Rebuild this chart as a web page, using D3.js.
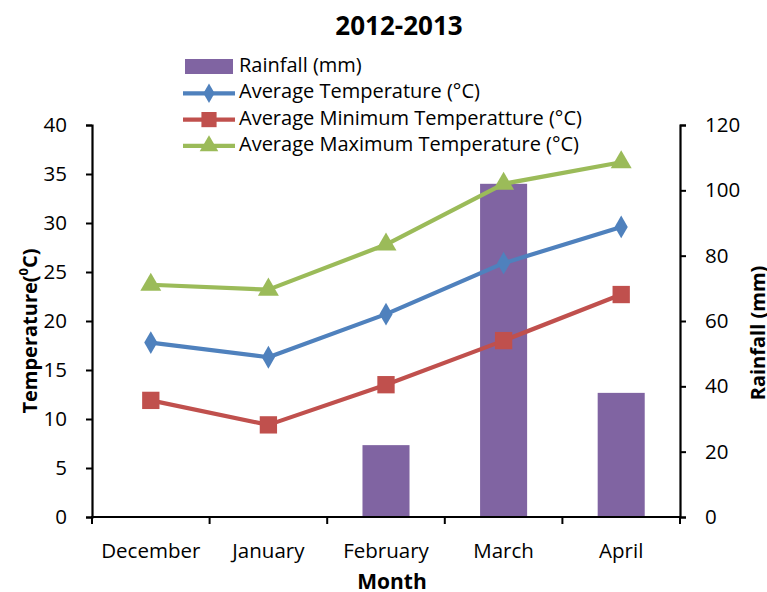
<!DOCTYPE html>
<html>
<head>
<meta charset="utf-8">
<script src="https://cdn.jsdelivr.net/npm/d3@7"></script>
<style>
  html, body { margin: 0; padding: 0; background: #fff; }
  svg { display: block; font-family: "Open Sans", Lato, sans-serif; }
</style>
</head>
<body>
<svg id="chart" width="767" height="592"></svg>
<script>
// Monthly climate data, 2012-2013 season
const months = ["December", "January", "February", "March", "April"];
const rainfall = [0, 0, 22, 102, 38];            // mm
const avgTemp = [17.8, 16.3, 20.7, 25.9, 29.6];  // °C
const minTemp = [11.9, 9.4, 13.5, 18.0, 22.7];   // °C
const maxTemp = [23.7, 23.2, 27.8, 34.0, 36.2];  // °C
const tempTicks = [0, 5, 10, 15, 20, 25, 30, 35, 40];
const rainTicks = [0, 20, 40, 60, 80, 100, 120];

const colors = { rain: "#8064A2", avg: "#4F81BD", min: "#C0504D", max: "#9BBB59" };
const FONT = '"Open Sans", Lato, sans-serif';

const svg = d3.select("#chart");
const plotLeft = 92, plotRight = 680, plotTop = 125, plotBottom = 517;

const x = d3.scaleBand().domain(months).range([plotLeft, plotRight]).paddingInner(0).paddingOuter(0);
const yT = d3.scaleLinear().domain([0, 40]).range([plotBottom, plotTop]);
const yR = d3.scaleLinear().domain([0, 120]).range([plotBottom, plotTop]);

// Rainfall bars (40% of each category band)
const barW = x.bandwidth() * 0.4;
svg.append("g").selectAll("rect")
  .data(months.map((m, i) => ({ m, v: rainfall[i] })).filter(d => d.v > 0))
  .join("rect")
  .attr("x", d => x(d.m) + x.bandwidth() / 2 - barW / 2)
  .attr("y", d => yR(d.v))
  .attr("width", barW)
  .attr("height", d => yR(0) - yR(d.v))
  .attr("fill", colors.rain);

// Axes
const axisStyle = g => {
  g.attr("font-family", FONT).attr("font-size", 20.5);
  g.selectAll("path").attr("stroke", "#000").attr("stroke-width", 2.2);
  g.selectAll("line").attr("stroke", "#000").attr("stroke-width", 2);
  g.selectAll("text").attr("fill", "#000");
};

svg.append("g")
  .attr("transform", `translate(${plotLeft},0)`)
  .call(d3.axisLeft(yT).tickValues(tempTicks).tickSize(6).tickSizeOuter(6).tickPadding(19))
  .call(axisStyle);

svg.append("g")
  .attr("transform", `translate(${plotRight},0)`)
  .call(d3.axisRight(yR).tickValues(rainTicks).tickSize(6).tickSizeOuter(6).tickPadding(19))
  .call(axisStyle);

// Category axis: ticks sit at band boundaries, labels at band centres
const xAxis = svg.append("g").attr("transform", `translate(0,${plotBottom})`);
xAxis.append("line")
  .attr("x1", plotLeft - 1).attr("x2", plotRight + 1).attr("y1", 0).attr("y2", 0)
  .attr("stroke", "#000").attr("stroke-width", 2.2);
const boundaries = months.map(m => x(m)).concat([plotRight]);
xAxis.selectAll("line.tick").data(boundaries).join("line")
  .attr("class", "tick")
  .attr("x1", d => d).attr("x2", d => d).attr("y1", 0).attr("y2", 7)
  .attr("stroke", "#000").attr("stroke-width", 2);
xAxis.selectAll("text").data(months).join("text")
  .attr("x", d => x(d) + x.bandwidth() / 2)
  .attr("y", 41)
  .attr("text-anchor", "middle")
  .style("font-size", "20.5px")
  .text(d => d);

// Temperature lines with markers
const cx = m => x(m) + x.bandwidth() / 2;
const line = d3.line().x(d => cx(d.m)).y(d => yT(d.v));
const series = [
  { key: "avg", vals: avgTemp, shape: d3.symbolDiamond, size: 150 },
  { key: "min", vals: minTemp, shape: d3.symbolSquare, size: 300 },
  { key: "max", vals: maxTemp, shape: d3.symbolTriangle, size: 190 }
];
series.forEach(s => {
  const pts = months.map((m, i) => ({ m, v: s.vals[i] }));
  svg.append("path").datum(pts)
    .attr("d", line)
    .attr("fill", "none")
    .attr("stroke", colors[s.key])
    .attr("stroke-width", 4.2)
    .attr("stroke-linejoin", "round");
  svg.append("g").selectAll("path").data(pts).join("path")
    .attr("transform", d => `translate(${cx(d.m)},${yT(d.v)})`)
    .attr("d", d3.symbol().type(s.shape).size(s.size))
    .attr("fill", colors[s.key]);
});

// Title
svg.append("text")
  .attr("x", 399).attr("y", 35)
  .attr("text-anchor", "middle")
  .style("font-size", "26px").style("font-weight", "bold")
  .text("2012-2013");

// Axis titles
svg.append("text")
  .attr("transform", `translate(37,331) rotate(-90)`)
  .attr("text-anchor", "middle")
  .style("font-size", "20px").style("font-weight", "bold")
  .html('Temperature(<tspan baseline-shift="super" font-size="13px">0</tspan>C)');

svg.append("text")
  .attr("transform", `translate(765,333) rotate(-90)`)
  .attr("text-anchor", "middle")
  .style("font-size", "20px").style("font-weight", "bold")
  .text("Rainfall (mm)");

svg.append("text")
  .attr("x", 392).attr("y", 589)
  .attr("text-anchor", "middle")
  .style("font-size", "21px").style("font-weight", "bold")
  .text("Month");

// Legend
const legendItems = [
  { label: "Rainfall (mm)", key: "rain", type: "bar" },
  { label: "Average Temperature (°C)", key: "avg", type: "line", shape: d3.symbolDiamond, size: 110 },
  { label: "Average Minimum Temperatture (°C)", key: "min", type: "line", shape: d3.symbolSquare, size: 230 },
  { label: "Average Maximum Temperature (°C)", key: "max", type: "line", shape: d3.symbolTriangle, size: 150 }
];
const lg = svg.append("g");
legendItems.forEach((d, i) => {
  const base = 72 + i * 26.3;
  const yy = base - 5;
  if (d.type === "bar") {
    lg.append("rect").attr("x", 185).attr("y", 59).attr("width", 48).attr("height", 15)
      .attr("fill", colors[d.key]);
  } else {
    lg.append("line").attr("x1", 183).attr("x2", 235).attr("y1", yy).attr("y2", yy)
      .attr("stroke", colors[d.key]).attr("stroke-width", 4.2);
    lg.append("path").attr("transform", `translate(209,${yy})`)
      .attr("d", d3.symbol().type(d.shape).size(d.size))
      .attr("fill", colors[d.key]);
  }
  lg.append("text").attr("x", 239).attr("y", base)
    .style("font-size", "20px").text(d.label);
});
</script>
</body>
</html>
